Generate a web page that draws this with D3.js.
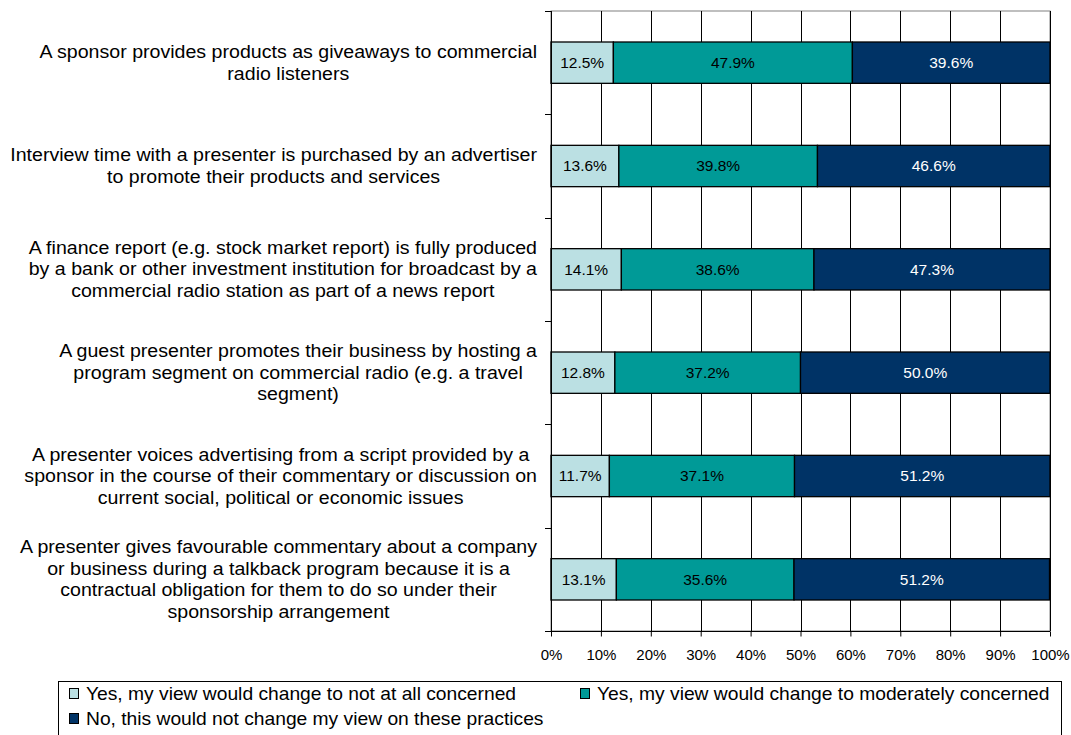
<!DOCTYPE html>
<html>
<head>
<meta charset="utf-8">
<script src="https://cdn.jsdelivr.net/npm/d3@7"></script>
<style>
  html, body { margin: 0; padding: 0; background: #fff; }
  svg { display: block; font-family: "Liberation Sans", Arial, sans-serif; }
</style>
</head>
<body>
<svg id="chart" width="1071" height="735"></svg>
<script>
// Practices asked about, each split into wrapped label lines
const categories = [
  ["A sponsor provides products as giveaways to commercial", "radio listeners"],
  ["Interview time with a presenter is purchased by an advertiser", "to promote their products and services"],
  ["A finance report (e.g. stock market report) is fully produced", "by a bank or other investment institution for broadcast by a", "commercial radio station as part of a news report"],
  ["A guest presenter promotes their business by hosting a", "program segment on commercial radio (e.g. a travel", "segment)"],
  ["A presenter voices advertising from a script provided by a", "sponsor in the course of their commentary or discussion on", "current social, political or economic issues"],
  ["A presenter gives favourable commentary about a company", "or business during a talkback program because it is a", "contractual obligation for them to do so under their", "sponsorship arrangement"]
];

const seriesNames = [
  "Yes, my view would change to not at all concerned",
  "Yes, my view would change to moderately concerned",
  "No, this would not change my view on these practices"
];

// Percentages per category, in the order above
const notConcerned      = [12.5, 13.6, 14.1, 12.8, 11.7, 13.1];
const moderatelyConcern = [47.9, 39.8, 38.6, 37.2, 37.1, 35.6];
const noChange          = [39.6, 46.6, 47.3, 50.0, 51.2, 51.2];

const xTicks = [0, 10, 20, 30, 40, 50, 60, 70, 80, 90, 100];

const colors = ["#BBE0E3", "#009A97", "#003366"];
const labelColors = ["#000", "#000", "#fff"];

const svg = d3.select("#chart");
const plot = { left: 551, right: 1050, top: 11, bottom: 631 };

const x = d3.scaleLinear().domain([0, 100]).range([plot.left, plot.right]);
const yCat = d3.scaleBand().domain(d3.range(categories.length))
  .range([plot.top, plot.bottom]);
const yBar = d3.scaleBand().domain(d3.range(categories.length))
  .range([plot.top, plot.bottom]).paddingInner(0.6).paddingOuter(0.3);

// Text drawn with a slight horizontal widening
function wideText(parent, tx, ty, str, size, sx, anchor) {
  const g = parent.append("g").attr("transform", `translate(${tx},${ty}) scale(${sx},1)`);
  const t = g.append("text")
    .attr("x", 0).attr("y", 0).attr("dy", "0.35em")
    .attr("text-anchor", anchor || "start")
    .attr("font-size", size).attr("fill", "#000")
    .text(str);
  return { g, t, sx, ty };
}

// Build stacked rows
const rows = categories.map((c, i) => ({
  idx: i,
  v0: notConcerned[i], v1: moderatelyConcern[i], v2: noChange[i]
}));
const stacked = d3.stack().keys(["v0", "v1", "v2"])(rows);

// Plot area frame
svg.append("rect")
  .attr("x", plot.left).attr("y", plot.top)
  .attr("width", plot.right - plot.left).attr("height", plot.bottom - plot.top)
  .attr("fill", "#fff").attr("stroke", "#808080").attr("stroke-width", 1);

// Vertical gridlines
svg.append("g").selectAll("line")
  .data(xTicks.slice(1))
  .join("line")
  .attr("x1", d => Math.round(x(d)) + 0.5).attr("x2", d => Math.round(x(d)) + 0.5)
  .attr("y1", plot.top).attr("y2", plot.bottom)
  .attr("stroke", "#000").attr("stroke-width", 1);

// Bars
const segs = svg.append("g").selectAll("g")
  .data(stacked)
  .join("g")
  .attr("fill", (d, i) => colors[i]);

segs.selectAll("rect")
  .data(d => d)
  .join("rect")
  .attr("x", d => x(d[0]))
  .attr("width", d => x(d[1]) - x(d[0]))
  .attr("y", d => yBar(d.data.idx))
  .attr("height", yBar.bandwidth())
  .attr("stroke", "#000").attr("stroke-width", 1.3);

// Value labels
stacked.forEach((layer, si) => {
  svg.append("g").selectAll("text")
    .data(layer)
    .join("text")
    .attr("x", d => (x(d[0]) + x(d[1])) / 2)
    .attr("y", d => yBar(d.data.idx) + yBar.bandwidth() / 2)
    .attr("dy", "0.35em")
    .attr("text-anchor", "middle")
    .attr("font-size", 15.5)
    .attr("fill", labelColors[si])
    .text(d => (d[1] - d[0]).toFixed(1) + "%");
});

// Left axis with ticks at category boundaries
const leftAxis = svg.append("g");
leftAxis.append("line")
  .attr("x1", plot.left + 0.5).attr("x2", plot.left + 0.5)
  .attr("y1", plot.top).attr("y2", plot.bottom)
  .attr("stroke", "#000");
leftAxis.selectAll("line.tick")
  .data(d3.range(categories.length + 1))
  .join("line").attr("class", "tick")
  .attr("x1", plot.left - 6).attr("x2", plot.left)
  .attr("y1", d => Math.round(d === categories.length ? plot.bottom : yCat(d)) + 0.5)
  .attr("y2", d => Math.round(d === categories.length ? plot.bottom : yCat(d)) + 0.5)
  .attr("stroke", "#000");

// Bottom axis
const xAxis = d3.axisBottom(x).tickValues(xTicks)
  .tickFormat(d => d + "%").tickSize(5).tickPadding(13);
const gx = svg.append("g")
  .attr("transform", `translate(0,${plot.bottom + 0.5})`)
  .call(xAxis);
gx.select(".domain").attr("stroke", "#000").attr("d", `M${plot.left},0H${plot.right}`);
gx.selectAll(".tick line").attr("stroke", "#000");
gx.selectAll(".tick text")
  .attr("font-family", "Liberation Sans, Arial, sans-serif")
  .attr("font-size", 15).attr("fill", "#000");

// Category labels: each block centred, block right-aligned near the axis
const labelRight = 537;
const lineH = 21.5;
const labelStretch = 1.12;
categories.forEach((lines, i) => {
  const g = svg.append("g");
  const cy = yCat(i) + yCat.bandwidth() / 2;
  const items = lines.map((ln, k) =>
    wideText(g, 0, cy + (k - (lines.length - 1) / 2) * lineH, ln, 17.5, labelStretch, "middle"));
  const maxW = d3.max(items, it => it.t.node().getComputedTextLength() * it.sx);
  const cx = labelRight - maxW / 2;
  items.forEach(it => it.g.attr("transform", `translate(${cx},${it.ty}) scale(${it.sx},1)`));
});

// Legend
const legend = svg.append("g");
legend.append("rect")
  .attr("x", 58.5).attr("y", 681.5)
  .attr("width", 1003).attr("height", 70)
  .attr("fill", "#fff").attr("stroke", "#000");
const legendPos = [[69, 694], [580, 694], [69, 719]];
seriesNames.forEach((name, i) => {
  const [lx, ly] = legendPos[i];
  legend.append("rect")
    .attr("x", lx + 0.5).attr("y", ly - 5.5)
    .attr("width", 9).attr("height", 10)
    .attr("fill", colors[i]).attr("stroke", "#000");
  wideText(legend, lx + 17, ly, name, 17.5, 1.1, "start");
});
</script>
</body>
</html>
